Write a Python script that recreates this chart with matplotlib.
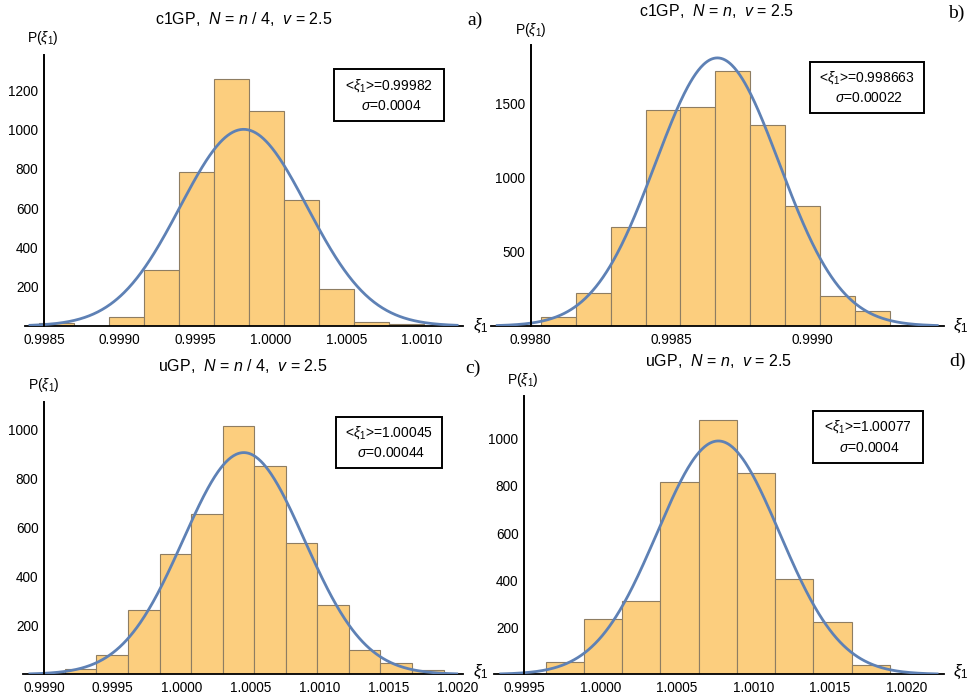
import numpy as np
import matplotlib.pyplot as plt
from matplotlib.patches import Rectangle

plt.rcParams['font.family'] = 'Liberation Sans'
plt.rcParams['mathtext.fontset'] = 'custom'
plt.rcParams['mathtext.rm'] = 'Liberation Sans'
plt.rcParams['mathtext.it'] = 'Liberation Sans:italic'

# ---- data ----
titles = [r'c1GP,  $N$ = $n$ / 4,  $v$ = 2.5', r'c1GP,  $N$ = $n$,  $v$ = 2.5',
          r'uGP,  $N$ = $n$ / 4,  $v$ = 2.5', r'uGP,  $N$ = $n$,  $v$ = 2.5']
letters = ['a)', 'b)', 'c)', 'd)']

a_start, a_width = 0.998469, 0.000231
a_counts = [17, 0, 44, 286, 784, 1258, 1093, 639, 187, 19, 10]
b_start, b_width = 0.998036, 0.000124
b_counts = [58, 220, 665, 1456, 1474, 1721, 1353, 806, 202, 98]
c_start, c_width = 0.999152, 0.000229
c_counts = [20, 78, 262, 490, 654, 1014, 850, 535, 282, 98, 45, 19]
d_start, d_width = 0.999642, 0.00025
d_counts = [51, 234, 313, 816, 1079, 856, 404, 221, 38]

# gaussian fits: mean, sigma, peak
means = [0.99982, 0.998663, 1.00045, 1.00077]
sigmas = [0.00042, 0.00022, 0.00044, 0.0004]
peaks = [1000, 1808, 906, 991]
mean_text = ['0.99982', '0.998663', '1.00045', '1.00077']
sigma_text = ['0.0004', '0.00022', '0.00044', '0.0004']

xticks = [[0.9985, 0.9990, 0.9995, 1.0000, 1.0005, 1.0010],
          [0.9980, 0.9985, 0.9990],
          [0.9990, 0.9995, 1.0000, 1.0005, 1.0010, 1.0015, 1.0020],
          [0.9995, 1.0000, 1.0005, 1.0010, 1.0015, 1.0020]]
yticks = [[200, 400, 600, 800, 1000, 1200],
          [500, 1000, 1500],
          [200, 400, 600, 800, 1000],
          [200, 400, 600, 800, 1000]]

starts = [a_start, b_start, c_start, d_start]
widths = [a_width, b_width, c_width, d_width]
counts = [a_counts, b_counts, c_counts, d_counts]

# ---- layout (pixels) ----
W, H = 974, 700
axes_px = [(25, 463, 55, 326), (490.7, 944, 45, 326),
           (23.3, 463.3, 401.7, 674.3), (494, 944, 396, 674.3)]
xlims = [(0.998374, 1.001271), (0.997858, 0.999468),
         (0.998850, 1.002043), (0.999304, 1.002245)]
ylims = [1378, 1895, 1114, 1182]
curve_rng = [(0.998407, 1.001232), (0.997881, 0.999444),
             (0.998898, 1.001995), (0.999348, 1.002200)]
title_pos = [(244, 19), (717, 11), (243, 366), (719, 361)]
letter_pos = [(475, 20), (956, 13), (473, 368), (957, 361)]
plabel_pos = [(43, 38), (531, 30), (44, 385), (523, 380)]
xilabel_pos = [(481, 326), (961, 326), (481, 672), (961, 672)]
boxes = [(334.3, 444.3, 69.3, 120.7), (810, 924, 61.7, 113.3),
         (336, 442.3, 416.7, 467.7), (812.7, 922.7, 411, 462.7)]

bar_color = '#FCCE7E'
bar_edge = '#8E7D62'
curve_color = '#5E81B5'

fig = plt.figure(figsize=(W / 100, H / 100), dpi=100)

for i in range(4):
    x0, x1, yt, yb = axes_px[i]
    ax = fig.add_axes([x0 / W, 1 - yb / H, (x1 - x0) / W, (yb - yt) / H])
    edges = starts[i] + widths[i] * np.arange(len(counts[i]))
    ax.bar(edges, counts[i], width=widths[i], align='edge',
           color=bar_color, edgecolor=bar_edge, linewidth=0.8, zorder=2)
    xs = np.linspace(curve_rng[i][0], curve_rng[i][1], 500)
    ys = peaks[i] * np.exp(-(xs - means[i]) ** 2 / (2 * sigmas[i] ** 2))
    ax.plot(xs, ys, color=curve_color, lw=2.0, zorder=3)

    ax.set_xlim(*xlims[i])
    ax.set_ylim(0, ylims[i])
    ax.patch.set_alpha(0)
    for s in ['top', 'right']:
        ax.spines[s].set_visible(False)
    ax.spines['left'].set_position(('data', xticks[i][0]))
    ax.spines['left'].set_linewidth(1.4)
    ax.spines['bottom'].set_linewidth(1.3)
    ax.spines['left'].set_zorder(4)
    ax.set_xticks(xticks[i])
    ax.set_xticklabels(['%.4f' % t for t in xticks[i]])
    ax.set_yticks(yticks[i])
    ax.set_yticklabels([str(t) for t in yticks[i]])
    ax.tick_params(length=0, labelsize=9.8)
    ax.tick_params(axis='x', pad=5)
    ax.tick_params(axis='y', pad=4)

    fig.text(title_pos[i][0] / W, 1 - title_pos[i][1] / H, titles[i],
             ha='center', va='center', fontsize=11.5)
    fig.text(letter_pos[i][0] / W, 1 - letter_pos[i][1] / H, letters[i],
             ha='center', va='center', fontsize=14, family='Liberation Serif')
    fig.text(plabel_pos[i][0] / W, 1 - plabel_pos[i][1] / H, r'P($\xi_1$)',
             ha='center', va='center', fontsize=10)
    fig.text(xilabel_pos[i][0] / W, 1 - xilabel_pos[i][1] / H, r'$\xi_1$',
             ha='center', va='center', fontsize=12)

    bx0, bx1, by0, by1 = boxes[i]
    fig.add_artist(Rectangle((bx0 / W, 1 - by1 / H), (bx1 - bx0) / W, (by1 - by0) / H,
                             transform=fig.transFigure, fill=False, lw=1.4, ec='black'))
    cx = (bx0 + bx1) / 2
    fig.text(cx / W, 1 - (by0 + 0.31 * (by1 - by0)) / H,
             r'<$\xi_1$>=' + mean_text[i], ha='center', va='center', fontsize=10)
    fig.text((cx + 2) / W, 1 - (by0 + 0.71 * (by1 - by0)) / H,
             r'$\sigma$=' + sigma_text[i], ha='center', va='center', fontsize=10)

fig.savefig('out.png', dpi=100)
